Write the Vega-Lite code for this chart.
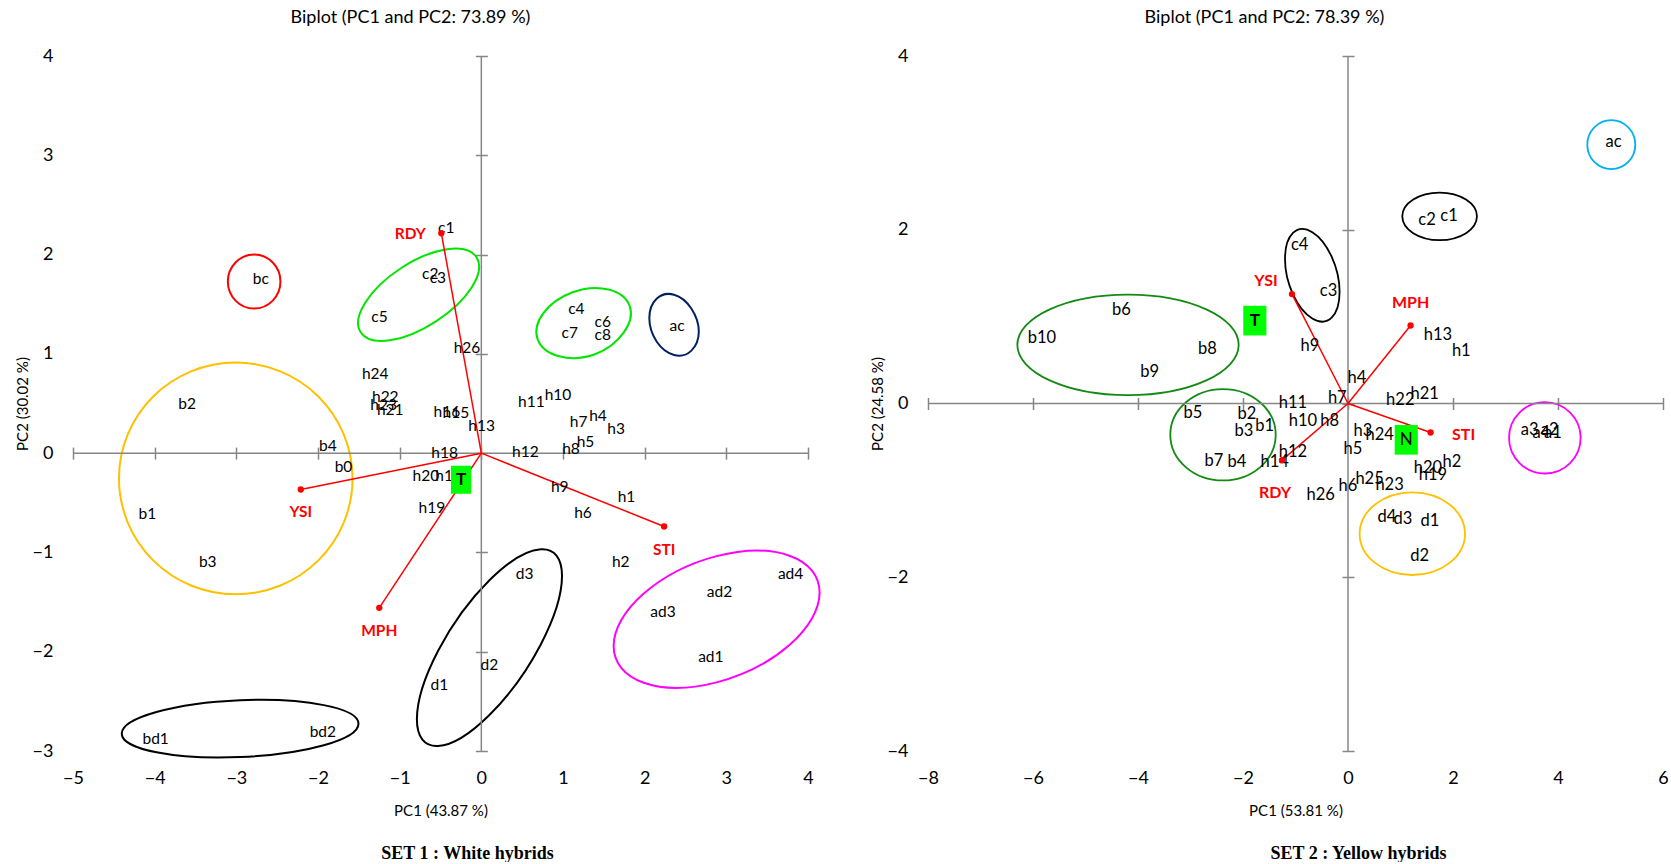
{
  "$schema": "https://vega.github.io/schema/vega-lite/v6.json",
  "padding": {"left": 15, "top": 8, "right": 0, "bottom": 0},
  "config": {"font": "Lato", "view": {"stroke": null}, "axis": {"grid": false}},
  "resolve": {"scale": {"color": "independent"}},
  "spacing": 46,
  "datasets": {
    "s1_pts": [
      {"label": "bc", "x": -2.701, "y": 1.754}, {"label": "c5", "x": -1.246, "y": 1.368}, {"label": "c1", "x": -0.429, "y": 2.265},
      {"label": "c2", "x": -0.625, "y": 1.804}, {"label": "c3", "x": -0.532, "y": 1.761}, {"label": "h26", "x": -0.176, "y": 1.058},
      {"label": "c4", "x": 1.164, "y": 1.452}, {"label": "c7", "x": 1.082, "y": 1.207}, {"label": "c6", "x": 1.487, "y": 1.318},
      {"label": "c8", "x": 1.487, "y": 1.194}, {"label": "ac", "x": 2.397, "y": 1.284}, {"label": "h24", "x": -1.299, "y": 0.796},
      {"label": "h22", "x": -1.176, "y": 0.561}, {"label": "h23", "x": -1.197, "y": 0.484}, {"label": "h21", "x": -1.115, "y": 0.437},
      {"label": "h16", "x": -0.422, "y": 0.41}, {"label": "h15", "x": -0.311, "y": 0.403}, {"label": "h13", "x": 0.004, "y": 0.276},
      {"label": "h11", "x": 0.613, "y": 0.518}, {"label": "h10", "x": 0.939, "y": 0.585}, {"label": "h7", "x": 1.192, "y": 0.309},
      {"label": "h4", "x": 1.429, "y": 0.377}, {"label": "h3", "x": 1.65, "y": 0.242}, {"label": "h5", "x": 1.275, "y": 0.108},
      {"label": "h8", "x": 1.098, "y": 0.04}, {"label": "h12", "x": 0.539, "y": 0.014}, {"label": "h18", "x": -0.45, "y": 0.0},
      {"label": "b2", "x": -3.603, "y": 0.494}, {"label": "b4", "x": -1.88, "y": 0.068}, {"label": "b0", "x": -1.688, "y": -0.144},
      {"label": "b1", "x": -4.089, "y": -0.615}, {"label": "b3", "x": -3.35, "y": -1.095}, {"label": "h20", "x": -0.679, "y": -0.228},
      {"label": "h17", "x": -0.401, "y": -0.228}, {"label": "h19", "x": -0.605, "y": -0.557}, {"label": "h9", "x": 0.96, "y": -0.346},
      {"label": "h1", "x": 1.777, "y": -0.44}, {"label": "h6", "x": 1.245, "y": -0.605}, {"label": "h2", "x": 1.707, "y": -1.095},
      {"label": "d3", "x": 0.531, "y": -1.22}, {"label": "d2", "x": 0.098, "y": -2.133}, {"label": "d1", "x": -0.515, "y": -2.335},
      {"label": "ad4", "x": 3.787, "y": -1.22}, {"label": "ad2", "x": 2.917, "y": -1.397}, {"label": "ad3", "x": 2.225, "y": -1.599},
      {"label": "ad1", "x": 2.81, "y": -2.056}, {"label": "bd1", "x": -3.988, "y": -2.883}, {"label": "bd2", "x": -1.941, "y": -2.808}
    ],
    "s1_vec": [
      {"var": "RDY", "x": -0.49, "y": 2.215}, {"var": "YSI", "x": -2.211, "y": -0.366},
      {"var": "MPH", "x": -1.25, "y": -1.558}, {"var": "STI", "x": 2.238, "y": -0.739}
    ],
    "s1_box": [{"label": "T", "x": -0.248, "y": -0.268}],
    "s1_ell": [
      {"grp": "bc", "ord": 0, "x": -2.46, "y": 1.728}, {"grp": "bc", "ord": 1, "x": -2.554, "y": 1.92}, {"grp": "bc", "ord": 2, "x": -2.782, "y": 2.0}, {"grp": "bc", "ord": 3, "x": -3.01, "y": 1.92},
      {"grp": "bc", "ord": 4, "x": -3.104, "y": 1.728}, {"grp": "bc", "ord": 5, "x": -3.01, "y": 1.536}, {"grp": "bc", "ord": 6, "x": -2.782, "y": 1.456}, {"grp": "bc", "ord": 7, "x": -2.554, "y": 1.536},
      {"grp": "cA", "ord": 0, "x": -0.059, "y": 1.974}, {"grp": "cA", "ord": 1, "x": -0.117, "y": 1.671}, {"grp": "cA", "ord": 2, "x": -0.555, "y": 1.328}, {"grp": "cA", "ord": 3, "x": -1.119, "y": 1.136},
      {"grp": "cA", "ord": 4, "x": -1.478, "y": 1.217}, {"grp": "cA", "ord": 5, "x": -1.42, "y": 1.518}, {"grp": "cA", "ord": 6, "x": -0.981, "y": 1.865}, {"grp": "cA", "ord": 7, "x": -0.419, "y": 2.054},
      {"grp": "cB", "ord": 0, "x": 1.817, "y": 1.481}, {"grp": "cB", "ord": 1, "x": 1.743, "y": 1.214}, {"grp": "cB", "ord": 2, "x": 1.391, "y": 0.996}, {"grp": "cB", "ord": 3, "x": 0.952, "y": 0.976},
      {"grp": "cB", "ord": 4, "x": 0.69, "y": 1.145}, {"grp": "cB", "ord": 5, "x": 0.76, "y": 1.411}, {"grp": "cB", "ord": 6, "x": 1.118, "y": 1.621}, {"grp": "cB", "ord": 7, "x": 1.556, "y": 1.649},
      {"grp": "ac", "ord": 0, "x": 2.663, "y": 1.225}, {"grp": "ac", "ord": 1, "x": 2.569, "y": 1.03}, {"grp": "ac", "ord": 2, "x": 2.36, "y": 0.989}, {"grp": "ac", "ord": 3, "x": 2.146, "y": 1.125},
      {"grp": "ac", "ord": 4, "x": 2.057, "y": 1.36}, {"grp": "ac", "ord": 5, "x": 2.146, "y": 1.555}, {"grp": "ac", "ord": 6, "x": 2.36, "y": 1.596}, {"grp": "ac", "ord": 7, "x": 2.569, "y": 1.46},
      {"grp": "b", "ord": 0, "x": -1.577, "y": -0.255}, {"grp": "b", "ord": 1, "x": -1.996, "y": 0.57}, {"grp": "b", "ord": 2, "x": -3.007, "y": 0.912}, {"grp": "b", "ord": 3, "x": -4.018, "y": 0.57},
      {"grp": "b", "ord": 4, "x": -4.437, "y": -0.255}, {"grp": "b", "ord": 5, "x": -4.018, "y": -1.08}, {"grp": "b", "ord": 6, "x": -3.007, "y": -1.422}, {"grp": "b", "ord": 7, "x": -1.996, "y": -1.08},
      {"grp": "bd", "ord": 0, "x": -1.504, "y": -2.725}, {"grp": "bd", "ord": 1, "x": -1.929, "y": -2.942}, {"grp": "bd", "ord": 2, "x": -2.953, "y": -3.061}, {"grp": "bd", "ord": 3, "x": -3.978, "y": -3.013},
      {"grp": "bd", "ord": 4, "x": -4.403, "y": -2.825}, {"grp": "bd", "ord": 5, "x": -3.978, "y": -2.608}, {"grp": "bd", "ord": 6, "x": -2.953, "y": -2.489}, {"grp": "bd", "ord": 7, "x": -1.929, "y": -2.538},
      {"grp": "d", "ord": 0, "x": 0.988, "y": -1.236}, {"grp": "d", "ord": 1, "x": 0.728, "y": -1.927}, {"grp": "d", "ord": 2, "x": 0.099, "y": -2.637}, {"grp": "d", "ord": 3, "x": -0.529, "y": -2.95},
      {"grp": "d", "ord": 4, "x": -0.789, "y": -2.681}, {"grp": "d", "ord": 5, "x": -0.529, "y": -1.99}, {"grp": "d", "ord": 6, "x": 0.099, "y": -1.28}, {"grp": "d", "ord": 7, "x": 0.728, "y": -0.968},
      {"grp": "ad", "ord": 0, "x": 4.142, "y": -1.404}, {"grp": "ad", "ord": 1, "x": 3.773, "y": -1.932}, {"grp": "ad", "ord": 2, "x": 2.881, "y": -2.309}, {"grp": "ad", "ord": 3, "x": 1.989, "y": -2.313},
      {"grp": "ad", "ord": 4, "x": 1.62, "y": -1.942}, {"grp": "ad", "ord": 5, "x": 1.989, "y": -1.414}, {"grp": "ad", "ord": 6, "x": 2.881, "y": -1.037}, {"grp": "ad", "ord": 7, "x": 3.773, "y": -1.033}
    ],
    "s2_pts": [
      {"label": "b6", "x": -4.318, "y": 1.075}, {"label": "b10", "x": -5.829, "y": 0.756}, {"label": "b8", "x": -2.68, "y": 0.626},
      {"label": "b9", "x": -3.779, "y": 0.357}, {"label": "ac", "x": 5.059, "y": 3.012}, {"label": "c2", "x": 1.505, "y": 2.11},
      {"label": "c1", "x": 1.924, "y": 2.157}, {"label": "c4", "x": -0.922, "y": 1.823}, {"label": "c3", "x": -0.37, "y": 1.293},
      {"label": "h13", "x": 1.714, "y": 0.787}, {"label": "h1", "x": 2.158, "y": 0.603}, {"label": "h9", "x": -0.724, "y": 0.664},
      {"label": "h4", "x": 0.171, "y": 0.288}, {"label": "h7", "x": -0.204, "y": 0.058}, {"label": "h11", "x": -1.048, "y": 0.008},
      {"label": "h22", "x": 0.996, "y": 0.039}, {"label": "h21", "x": 1.459, "y": 0.104}, {"label": "h10", "x": -0.857, "y": -0.203},
      {"label": "h8", "x": -0.35, "y": -0.203}, {"label": "h3", "x": 0.286, "y": -0.318}, {"label": "h24", "x": 0.602, "y": -0.357},
      {"label": "h5", "x": 0.095, "y": -0.518}, {"label": "h12", "x": -1.048, "y": -0.556}, {"label": "h14", "x": -1.398, "y": -0.679},
      {"label": "h2", "x": 1.981, "y": -0.671}, {"label": "h20", "x": 1.524, "y": -0.748}, {"label": "h19", "x": 1.619, "y": -0.824},
      {"label": "h25", "x": 0.411, "y": -0.87}, {"label": "h23", "x": 0.792, "y": -0.939}, {"label": "h6", "x": 0.0, "y": -0.951},
      {"label": "h26", "x": -0.522, "y": -1.054}, {"label": "d4", "x": 0.743, "y": -1.304}, {"label": "d3", "x": 1.048, "y": -1.33},
      {"label": "d1", "x": 1.562, "y": -1.353}, {"label": "d2", "x": 1.364, "y": -1.753}, {"label": "b5", "x": -2.952, "y": -0.104},
      {"label": "b2", "x": -1.924, "y": -0.122}, {"label": "b3", "x": -1.981, "y": -0.314}, {"label": "b1", "x": -1.589, "y": -0.26},
      {"label": "b7", "x": -2.552, "y": -0.663}, {"label": "b4", "x": -2.114, "y": -0.671}, {"label": "a3", "x": 3.459, "y": -0.306},
      {"label": "a2", "x": 3.84, "y": -0.306}, {"label": "a4", "x": 3.682, "y": -0.337}, {"label": "a1", "x": 3.905, "y": -0.337}
    ],
    "s2_vec": [
      {"var": "YSI", "x": -1.067, "y": 1.259}, {"var": "MPH", "x": 1.192, "y": 0.898},
      {"var": "STI", "x": 1.573, "y": -0.334}, {"var": "RDY", "x": -1.257, "y": -0.651}
    ],
    "s2_box": [{"label": "T", "x": -1.775, "y": 0.954}, {"label": "N", "x": 1.11, "y": -0.418}],
    "s2_ell": [
      {"grp": "ac", "ord": 0, "x": 5.472, "y": 2.979}, {"grp": "ac", "ord": 1, "x": 5.338, "y": 3.178}, {"grp": "ac", "ord": 2, "x": 5.015, "y": 3.261}, {"grp": "ac", "ord": 3, "x": 4.692, "y": 3.178},
      {"grp": "ac", "ord": 4, "x": 4.558, "y": 2.979}, {"grp": "ac", "ord": 5, "x": 4.692, "y": 2.78}, {"grp": "ac", "ord": 6, "x": 5.015, "y": 2.697}, {"grp": "ac", "ord": 7, "x": 5.338, "y": 2.78},
      {"grp": "c12", "ord": 0, "x": 2.456, "y": 2.154}, {"grp": "c12", "ord": 1, "x": 2.248, "y": 2.348}, {"grp": "c12", "ord": 2, "x": 1.745, "y": 2.428}, {"grp": "c12", "ord": 3, "x": 1.242, "y": 2.348},
      {"grp": "c12", "ord": 4, "x": 1.034, "y": 2.154}, {"grp": "c12", "ord": 5, "x": 1.242, "y": 1.96}, {"grp": "c12", "ord": 6, "x": 1.745, "y": 1.88}, {"grp": "c12", "ord": 7, "x": 2.248, "y": 1.96},
      {"grp": "c34", "ord": 0, "x": -0.16, "y": 1.286}, {"grp": "c34", "ord": 1, "x": -0.312, "y": 0.988}, {"grp": "c34", "ord": 2, "x": -0.68, "y": 0.979}, {"grp": "c34", "ord": 3, "x": -1.048, "y": 1.257},
      {"grp": "c34", "ord": 4, "x": -1.2, "y": 1.663}, {"grp": "c34", "ord": 5, "x": -1.048, "y": 1.963}, {"grp": "c34", "ord": 6, "x": -0.68, "y": 1.972}, {"grp": "c34", "ord": 7, "x": -0.312, "y": 1.691},
      {"grp": "bA", "ord": 0, "x": -2.082, "y": 0.675}, {"grp": "bA", "ord": 1, "x": -2.699, "y": 1.084}, {"grp": "bA", "ord": 2, "x": -4.19, "y": 1.254}, {"grp": "bA", "ord": 3, "x": -5.681, "y": 1.084},
      {"grp": "bA", "ord": 4, "x": -6.298, "y": 0.675}, {"grp": "bA", "ord": 5, "x": -5.681, "y": 0.266}, {"grp": "bA", "ord": 6, "x": -4.19, "y": 0.096}, {"grp": "bA", "ord": 7, "x": -2.699, "y": 0.266},
      {"grp": "bB", "ord": 0, "x": -1.377, "y": -0.36}, {"grp": "bB", "ord": 1, "x": -1.671, "y": 0.012}, {"grp": "bB", "ord": 2, "x": -2.381, "y": 0.166}, {"grp": "bB", "ord": 3, "x": -3.091, "y": 0.012},
      {"grp": "bB", "ord": 4, "x": -3.385, "y": -0.36}, {"grp": "bB", "ord": 5, "x": -3.091, "y": -0.732}, {"grp": "bB", "ord": 6, "x": -2.381, "y": -0.886}, {"grp": "bB", "ord": 7, "x": -1.671, "y": -0.732},
      {"grp": "d", "ord": 0, "x": 2.229, "y": -1.499}, {"grp": "d", "ord": 1, "x": 1.935, "y": -1.163}, {"grp": "d", "ord": 2, "x": 1.225, "y": -1.024}, {"grp": "d", "ord": 3, "x": 0.515, "y": -1.163},
      {"grp": "d", "ord": 4, "x": 0.221, "y": -1.499}, {"grp": "d", "ord": 5, "x": 0.515, "y": -1.835}, {"grp": "d", "ord": 6, "x": 1.225, "y": -1.974}, {"grp": "d", "ord": 7, "x": 1.935, "y": -1.835},
      {"grp": "a", "ord": 0, "x": 4.431, "y": -0.395}, {"grp": "a", "ord": 1, "x": 4.231, "y": -0.104}, {"grp": "a", "ord": 2, "x": 3.749, "y": 0.016}, {"grp": "a", "ord": 3, "x": 3.267, "y": -0.104},
      {"grp": "a", "ord": 4, "x": 3.067, "y": -0.395}, {"grp": "a", "ord": 5, "x": 3.267, "y": -0.686}, {"grp": "a", "ord": 6, "x": 3.749, "y": -0.806}, {"grp": "a", "ord": 7, "x": 4.231, "y": -0.686}
    ]
  },
  "hconcat": [
    {
      "title": {"text": "Biplot (PC1 and PC2: 73.89 %)", "fontSize": 18, "fontWeight": "normal", "font": "Lato", "color": "black", "anchor": "middle", "dx": -30, "offset": 20.5},
      "width": 735,
      "height": 695,
      "resolve": {"axis": {"x": "independent", "y": "independent"}},
      "layer": [
        {
          "data": {"name": "s1_ell"},
          "mark": {"type": "line", "interpolate": "cardinal-closed", "tension": -0.125, "strokeWidth": 2},
          "encoding": {
            "x": {"field": "x", "type": "quantitative", "scale": {"domain": [-5, 4], "nice": false, "zero": false},
              "axis": {"orient": "bottom", "values": [-5, -4, -3, -2, -1, 0, 1, 2, 3, 4], "domain": false, "ticks": false, "tickSize": 0, "labelPadding": 18, "labelFontSize": 18, "labelColor": "black", "labelFlush": false, "title": "PC1 (43.87 %)", "titleFontSize": 15, "titleFontWeight": "normal", "titleColor": "black", "titleY": 59, "titleBaseline": "middle"}},
            "y": {"field": "y", "type": "quantitative", "scale": {"domain": [-3, 4], "nice": false, "zero": false},
              "axis": {"orient": "left", "values": [-3, -2, -1, 0, 1, 2, 3, 4], "domain": false, "ticks": false, "tickSize": 0, "labelPadding": 20, "labelFontSize": 18, "labelColor": "black", "labelFlush": false, "title": "PC2 (30.02 %)", "titleFontSize": 15, "titleFontWeight": "normal", "titleColor": "black", "titleX": -51, "titleBaseline": "middle"}},
            "color": {"field": "grp", "type": "nominal", "legend": null,
              "scale": {"domain": ["bc", "cA", "cB", "ac", "b", "bd", "d", "ad"], "range": ["#FF0000", "#00E600", "#00E600", "#002060", "#FFC000", "#000000", "#000000", "#FF00FF"]}},
            "order": {"field": "ord", "type": "quantitative"}
          }
        },
        {
          "data": {"values": [{}]},
          "mark": {"type": "rule", "color": "#868686", "strokeWidth": 1.5},
          "encoding": {"y": {"datum": 0, "type": "quantitative", "scale": {"domain": [-3, 4], "nice": false, "zero": false}, "axis": null}}
        },
        {
          "data": {"values": [{}]},
          "mark": {"type": "rule", "color": "#868686", "strokeWidth": 1.5},
          "encoding": {"x": {"datum": 0, "type": "quantitative", "scale": {"domain": [-5, 4], "nice": false, "zero": false}, "axis": null}}
        },
        {
          "data": {"name": "s1_vec"},
          "mark": {"type": "rule", "color": "#FF0000", "strokeWidth": 1.5},
          "encoding": {
            "x": {"field": "x", "type": "quantitative", "scale": {"domain": [-5, 4], "nice": false, "zero": false},
              "axis": {"orient": "bottom", "offset": -303.9, "values": [-5, -4, -3, -2, -1, 0, 1, 2, 3, 4], "domain": false, "labels": false, "ticks": true, "tickSize": 12, "tickColor": "#868686", "tickWidth": 1.5, "title": null}},
            "y": {"field": "y", "type": "quantitative", "scale": {"domain": [-3, 4], "nice": false, "zero": false},
              "axis": {"orient": "left", "offset": -414.3, "values": [-3, -2, -1, 0, 1, 2, 3, 4], "domain": false, "labels": false, "ticks": true, "tickSize": 12, "tickColor": "#868686", "tickWidth": 1.5, "title": null}},
            "x2": {"datum": 0},
            "y2": {"datum": 0}
          }
        },
        {
          "data": {"name": "s1_pts"},
          "mark": {"type": "text", "fontSize": 15.5, "color": "black", "align": "center", "baseline": "middle"},
          "encoding": {
            "x": {"field": "x", "type": "quantitative", "scale": {"domain": [-5, 4], "nice": false, "zero": false},
              "axis": {"orient": "bottom", "labels": false, "ticks": false, "domain": false, "title": "SET 1 : White hybrids", "titleFont": "Liberation Serif", "titleFontSize": 18, "titleFontWeight": "bold", "titleColor": "black", "titleX": 394, "titleY": 102, "titleBaseline": "middle", "titleAlign": "center"}},
            "y": {"field": "y", "type": "quantitative", "scale": {"domain": [-3, 4], "nice": false, "zero": false}, "axis": null},
            "text": {"field": "label"}
          }
        },
        {
          "data": {"name": "s1_box"},
          "mark": {"type": "point", "shape": "M-0.72,-1L0.72,-1L0.72,1L-0.72,1Z", "size": 784, "filled": true, "fill": "#00FF00", "strokeWidth": 0, "opacity": 1},
          "encoding": {
            "x": {"field": "x", "type": "quantitative", "scale": {"domain": [-5, 4], "nice": false, "zero": false}, "axis": null},
            "y": {"field": "y", "type": "quantitative", "scale": {"domain": [-3, 4], "nice": false, "zero": false}, "axis": null}
          }
        },
        {
          "data": {"name": "s1_box"},
          "mark": {"type": "text", "fontSize": 17, "fontWeight": "bold", "color": "black", "align": "center", "baseline": "middle"},
          "encoding": {
            "x": {"field": "x", "type": "quantitative", "scale": {"domain": [-5, 4], "nice": false, "zero": false}, "axis": null},
            "y": {"field": "y", "type": "quantitative", "scale": {"domain": [-3, 4], "nice": false, "zero": false}, "axis": null},
            "text": {"field": "label"}
          }
        },
        {
          "data": {"name": "s1_vec"},
          "mark": {"type": "point", "filled": true, "color": "#FF0000", "size": 40, "opacity": 1},
          "encoding": {
            "x": {"field": "x", "type": "quantitative", "scale": {"domain": [-5, 4], "nice": false, "zero": false}, "axis": null},
            "y": {"field": "y", "type": "quantitative", "scale": {"domain": [-3, 4], "nice": false, "zero": false}, "axis": null}
          }
        },
        {
          "data": {"name": "s1_vec"},
          "transform": [{"filter": "datum.var == 'RDY'"}],
          "mark": {"type": "text", "fontSize": 15.5, "fontWeight": "bold", "color": "#FF0000", "align": "center", "baseline": "middle", "dx": -31, "dy": 1},
          "encoding": {
            "x": {"field": "x", "type": "quantitative", "scale": {"domain": [-5, 4], "nice": false, "zero": false}, "axis": null},
            "y": {"field": "y", "type": "quantitative", "scale": {"domain": [-3, 4], "nice": false, "zero": false}, "axis": null},
            "text": {"field": "var"}
          }
        },
        {
          "data": {"name": "s1_vec"},
          "transform": [{"filter": "datum.var != 'RDY'"}],
          "mark": {"type": "text", "fontSize": 15.5, "fontWeight": "bold", "color": "#FF0000", "align": "center", "baseline": "middle", "dy": 23},
          "encoding": {
            "x": {"field": "x", "type": "quantitative", "scale": {"domain": [-5, 4], "nice": false, "zero": false}, "axis": null},
            "y": {"field": "y", "type": "quantitative", "scale": {"domain": [-3, 4], "nice": false, "zero": false}, "axis": null},
            "text": {"field": "var"}
          }
        }
      ]
    },
    {
      "title": {"text": "Biplot (PC1 and PC2: 78.39 %)", "fontSize": 18, "fontWeight": "normal", "font": "Lato", "color": "black", "anchor": "middle", "dx": -31, "offset": 20.5},
      "width": 735,
      "height": 695,
      "resolve": {"axis": {"x": "independent", "y": "independent"}},
      "layer": [
        {
          "data": {"name": "s2_ell"},
          "mark": {"type": "line", "interpolate": "cardinal-closed", "tension": -0.125, "strokeWidth": 1.8},
          "encoding": {
            "x": {"field": "x", "type": "quantitative", "scale": {"domain": [-8, 6], "nice": false, "zero": false},
              "axis": {"orient": "bottom", "values": [-8, -6, -4, -2, 0, 2, 4, 6], "domain": false, "ticks": false, "tickSize": 0, "labelPadding": 18, "labelFontSize": 18, "labelColor": "black", "labelFlush": false, "title": "PC1 (53.81 %)", "titleFontSize": 15, "titleFontWeight": "normal", "titleColor": "black", "titleY": 59, "titleBaseline": "middle"}},
            "y": {"field": "y", "type": "quantitative", "scale": {"domain": [-4, 4], "nice": false, "zero": false},
              "axis": {"orient": "left", "values": [-4, -2, 0, 2, 4], "domain": false, "ticks": false, "tickSize": 0, "labelPadding": 20, "labelFontSize": 18, "labelColor": "black", "labelFlush": false, "title": "PC2 (24.58 %)", "titleFontSize": 15, "titleFontWeight": "normal", "titleColor": "black", "titleX": -51, "titleBaseline": "middle"}},
            "color": {"field": "grp", "type": "nominal", "legend": null,
              "scale": {"domain": ["ac", "c12", "c34", "bA", "bB", "d", "a"], "range": ["#00B0F0", "#000000", "#000000", "#138A13", "#138A13", "#FFC000", "#FF00FF"]}},
            "order": {"field": "ord", "type": "quantitative"}
          }
        },
        {
          "data": {"values": [{}]},
          "mark": {"type": "rule", "color": "#868686", "strokeWidth": 1.5},
          "encoding": {"y": {"datum": 0, "type": "quantitative", "scale": {"domain": [-4, 4], "nice": false, "zero": false}, "axis": null}}
        },
        {
          "data": {"values": [{}]},
          "mark": {"type": "rule", "color": "#868686", "strokeWidth": 1.5},
          "encoding": {"x": {"datum": 0, "type": "quantitative", "scale": {"domain": [-8, 6], "nice": false, "zero": false}, "axis": null}}
        },
        {
          "data": {"name": "s2_vec"},
          "mark": {"type": "rule", "color": "#FF0000", "strokeWidth": 1.5},
          "encoding": {
            "x": {"field": "x", "type": "quantitative", "scale": {"domain": [-8, 6], "nice": false, "zero": false},
              "axis": {"orient": "bottom", "offset": -353.5, "values": [-8, -6, -4, -2, 0, 2, 4, 6], "domain": false, "labels": false, "ticks": true, "tickSize": 12, "tickColor": "#868686", "tickWidth": 1.5, "title": null}},
            "y": {"field": "y", "type": "quantitative", "scale": {"domain": [-4, 4], "nice": false, "zero": false},
              "axis": {"orient": "left", "offset": -426, "values": [-4, -2, 0, 2, 4], "domain": false, "labels": false, "ticks": true, "tickSize": 12, "tickColor": "#868686", "tickWidth": 1.5, "title": null}},
            "x2": {"datum": 0},
            "y2": {"datum": 0}
          }
        },
        {
          "data": {"name": "s2_pts"},
          "mark": {"type": "text", "fontSize": 16.5, "color": "black", "align": "center", "baseline": "middle"},
          "encoding": {
            "x": {"field": "x", "type": "quantitative", "scale": {"domain": [-8, 6], "nice": false, "zero": false},
              "axis": {"orient": "bottom", "labels": false, "ticks": false, "domain": false, "title": "SET 2 : Yellow hybrids", "titleFont": "Liberation Serif", "titleFontSize": 18, "titleFontWeight": "bold", "titleColor": "black", "titleX": 430, "titleY": 102, "titleBaseline": "middle", "titleAlign": "center"}},
            "y": {"field": "y", "type": "quantitative", "scale": {"domain": [-4, 4], "nice": false, "zero": false}, "axis": null},
            "text": {"field": "label"}
          }
        },
        {
          "data": {"name": "s2_box"},
          "mark": {"type": "point", "shape": "M-0.78,-1L0.78,-1L0.78,1L-0.78,1Z", "size": 880, "filled": true, "fill": "#00FF00", "strokeWidth": 0, "opacity": 1},
          "encoding": {
            "x": {"field": "x", "type": "quantitative", "scale": {"domain": [-8, 6], "nice": false, "zero": false}, "axis": null},
            "y": {"field": "y", "type": "quantitative", "scale": {"domain": [-4, 4], "nice": false, "zero": false}, "axis": null}
          }
        },
        {
          "data": {"name": "s2_box"},
          "transform": [{"filter": "datum.label == 'T'"}],
          "mark": {"type": "text", "fontSize": 17, "fontWeight": "bold", "color": "black", "align": "center", "baseline": "middle"},
          "encoding": {
            "x": {"field": "x", "type": "quantitative", "scale": {"domain": [-8, 6], "nice": false, "zero": false}, "axis": null},
            "y": {"field": "y", "type": "quantitative", "scale": {"domain": [-4, 4], "nice": false, "zero": false}, "axis": null},
            "text": {"field": "label"}
          }
        },
        {
          "data": {"name": "s2_box"},
          "transform": [{"filter": "datum.label != 'T'"}],
          "mark": {"type": "text", "fontSize": 17, "color": "black", "align": "center", "baseline": "middle"},
          "encoding": {
            "x": {"field": "x", "type": "quantitative", "scale": {"domain": [-8, 6], "nice": false, "zero": false}, "axis": null},
            "y": {"field": "y", "type": "quantitative", "scale": {"domain": [-4, 4], "nice": false, "zero": false}, "axis": null},
            "text": {"field": "label"}
          }
        },
        {
          "data": {"name": "s2_vec"},
          "mark": {"type": "point", "filled": true, "color": "#FF0000", "size": 40, "opacity": 1},
          "encoding": {
            "x": {"field": "x", "type": "quantitative", "scale": {"domain": [-8, 6], "nice": false, "zero": false}, "axis": null},
            "y": {"field": "y", "type": "quantitative", "scale": {"domain": [-4, 4], "nice": false, "zero": false}, "axis": null}
          }
        },
        {
          "data": {"name": "s2_vec"},
          "transform": [{"filter": "datum.var == 'YSI'"}],
          "mark": {"type": "text", "fontSize": 16, "fontWeight": "bold", "color": "#FF0000", "align": "center", "baseline": "middle", "dx": -26, "dy": -13},
          "encoding": {
            "x": {"field": "x", "type": "quantitative", "scale": {"domain": [-8, 6], "nice": false, "zero": false}, "axis": null},
            "y": {"field": "y", "type": "quantitative", "scale": {"domain": [-4, 4], "nice": false, "zero": false}, "axis": null},
            "text": {"field": "var"}
          }
        },
        {
          "data": {"name": "s2_vec"},
          "transform": [{"filter": "datum.var == 'MPH'"}],
          "mark": {"type": "text", "fontSize": 16, "fontWeight": "bold", "color": "#FF0000", "align": "center", "baseline": "middle", "dy": -22},
          "encoding": {
            "x": {"field": "x", "type": "quantitative", "scale": {"domain": [-8, 6], "nice": false, "zero": false}, "axis": null},
            "y": {"field": "y", "type": "quantitative", "scale": {"domain": [-4, 4], "nice": false, "zero": false}, "axis": null},
            "text": {"field": "var"}
          }
        },
        {
          "data": {"name": "s2_vec"},
          "transform": [{"filter": "datum.var == 'STI'"}],
          "mark": {"type": "text", "fontSize": 16, "fontWeight": "bold", "color": "#FF0000", "align": "center", "baseline": "middle", "dx": 33, "dy": 2},
          "encoding": {
            "x": {"field": "x", "type": "quantitative", "scale": {"domain": [-8, 6], "nice": false, "zero": false}, "axis": null},
            "y": {"field": "y", "type": "quantitative", "scale": {"domain": [-4, 4], "nice": false, "zero": false}, "axis": null},
            "text": {"field": "var"}
          }
        },
        {
          "data": {"name": "s2_vec"},
          "transform": [{"filter": "datum.var == 'RDY'"}],
          "mark": {"type": "text", "fontSize": 16, "fontWeight": "bold", "color": "#FF0000", "align": "center", "baseline": "middle", "dx": -7, "dy": 33},
          "encoding": {
            "x": {"field": "x", "type": "quantitative", "scale": {"domain": [-8, 6], "nice": false, "zero": false}, "axis": null},
            "y": {"field": "y", "type": "quantitative", "scale": {"domain": [-4, 4], "nice": false, "zero": false}, "axis": null},
            "text": {"field": "var"}
          }
        }
      ]
    }
  ]
}
